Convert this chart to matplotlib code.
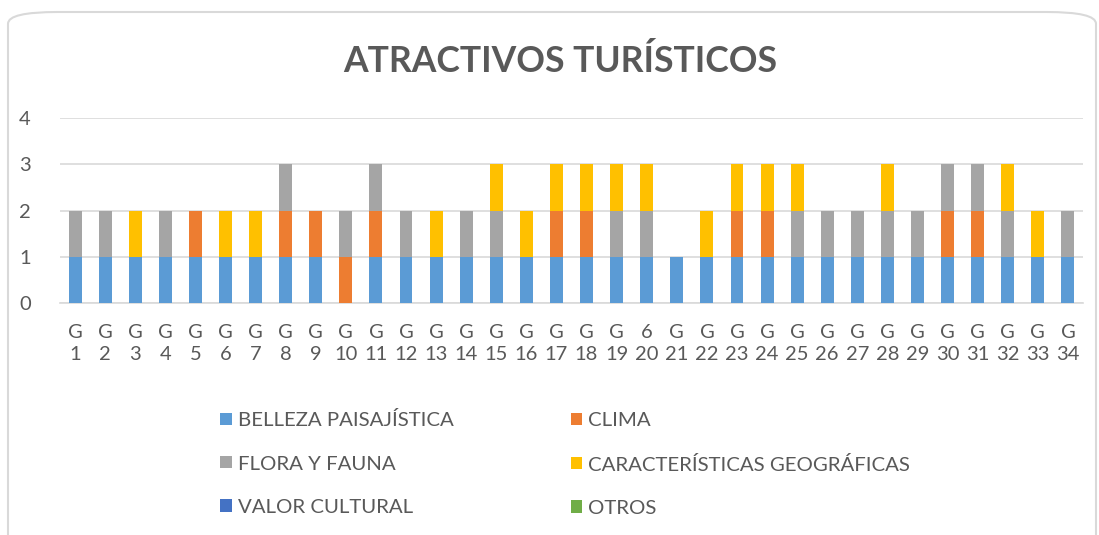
import numpy as np
import matplotlib.pyplot as plt
from matplotlib.patches import FancyBboxPatch

plt.rcParams['font.family'] = ['Lato', 'DejaVu Sans']

# Datos: grupos G1..G34
grupos = [f"G\n{i}" for i in range(1, 35)]
grupos[19] = "6\n20"   # así aparece en el original

belleza = [1, 1, 1, 1, 1, 1, 1, 1, 1, 0, 1, 1, 1, 1, 1, 1, 1,
           1, 1, 1, 1, 1, 1, 1, 1, 1, 1, 1, 1, 1, 1, 1, 1, 1]
clima = [0, 0, 0, 0, 1, 0, 0, 1, 1, 1, 1, 0, 0, 0, 0, 0, 1,
         1, 0, 0, 0, 0, 1, 1, 0, 0, 0, 0, 0, 1, 1, 0, 0, 0]
flora = [1, 1, 0, 1, 0, 0, 0, 1, 0, 1, 1, 1, 0, 1, 1, 0, 0,
         0, 1, 1, 0, 0, 0, 0, 1, 1, 1, 1, 1, 1, 1, 1, 0, 1]
caracteristicas = [0, 0, 1, 0, 0, 1, 1, 0, 0, 0, 0, 0, 1, 0, 1, 1, 1,
                   1, 1, 1, 0, 1, 1, 1, 1, 0, 0, 1, 0, 0, 0, 1, 1, 0]
valor_cultural = [0] * 34
otros = [0] * 34

series = [
    ("BELLEZA PAISAJÍSTICA", belleza, "#5B9BD5"),
    ("CLIMA", clima, "#ED7D31"),
    ("FLORA Y FAUNA", flora, "#A5A5A5"),
    ("CARACTERÍSTICAS GEOGRÁFICAS", caracteristicas, "#FFC000"),
    ("VALOR CULTURAL", valor_cultural, "#4472C4"),
    ("OTROS", otros, "#70AD47"),
]

texto = "#595959"
fig = plt.figure(figsize=(10.99, 5.35), dpi=100)
ax = fig.add_axes([60 / 1099, 232 / 535, 1023 / 1099, 185 / 535])

x = np.arange(1, 35)
base = np.zeros(34)
handles = []
for nombre, vals, color in series:
    vals = np.array(vals, dtype=float)
    b = ax.bar(x, vals, width=0.43, bottom=base, color=color, label=nombre, zorder=3)
    handles.append(b)
    base += vals

ax.set_xlim(0.5, 34.5)
ax.set_ylim(0, 4)
ax.set_yticks(range(0, 5))
ax.set_xticks(x)
ax.set_xticklabels(grupos, linespacing=1.35)
ax.tick_params(axis='both', length=0, labelsize=14.5, labelcolor=texto)
ax.tick_params(axis='x', pad=15)
ax.tick_params(axis='y', pad=21)
ax.grid(axis='y', color="#D9D9D9", linewidth=1.2, zorder=0)
for s in ['top', 'right', 'left']:
    ax.spines[s].set_visible(False)
ax.spines['bottom'].set_color("#D9D9D9")
ax.spines['bottom'].set_linewidth(1.2)

fig.text(560 / 1099, 1 - 61 / 535, "ATRACTIVOS TURÍSTICOS", ha='center', va='center',
         fontsize=25.6, fontweight='bold', color=texto)

orden = [0, 2, 4, 1, 3, 5]
fig.legend([handles[i] for i in orden], [series[i][0] for i in orden],
           ncol=2, loc='upper left', bbox_to_anchor=(202 / 1099, 1 - 393 / 535),
           frameon=False, fontsize=14.7, labelcolor=texto,
           handlelength=0.55, handleheight=0.55, handletextpad=0.3,
           labelspacing=1.28, columnspacing=5.75)

borde = FancyBboxPatch((8 / 1099, -0.1), 1088 / 1099, 1.1 - 12 / 535,
                       boxstyle="round,pad=0,rounding_size=0.045",
                       transform=fig.transFigure, facecolor='none',
                       edgecolor="#D9D9D9", linewidth=1.5, mutation_aspect=535 / 1099)
fig.add_artist(borde)

plt.savefig("out.png", dpi=100)
